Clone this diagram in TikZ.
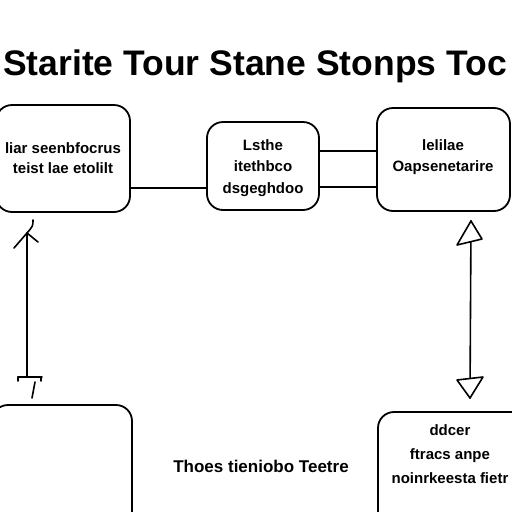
\documentclass[tikz,border=0pt]{standalone}
\usepackage{fontspec}
\setmainfont{Liberation Sans}
\begin{document}
\begin{tikzpicture}[x=1pt,y=-1pt,
  box/.style={draw=black,line width=1.8pt,rounded corners=16pt,inner sep=0pt},
  btext/.style={font=\fontsize{15}{20}\selectfont\bfseries,align=center,inner sep=0pt},
  wire/.style={line width=1.2pt},
  ln/.style={line width=1.6pt,line cap=round,line join=round}]
\useasboundingbox (0,0) rectangle (512,512);
\clip (0,0) rectangle (512,512);
\fill[white] (0,0) rectangle (512,512);
% title
\node[anchor=base west,inner sep=0pt,font=\fontsize{35.5}{40}\selectfont\bfseries] (title) at (3,75) {Starite Tour Stane Stonps Toc};
% boxes
\node[box,minimum width=134pt,minimum height=107pt] (bA) at (63,158.5) {};
\node[box,minimum width=112pt,minimum height=88pt] (bB) at (263,166) {};
\node[box,minimum width=133pt,minimum height=103pt] (bC) at (443.5,159.5) {};
\node[box,minimum width=140pt,minimum height=130pt] (bD) at (62,470) {};
\node[box,minimum width=150pt,minimum height=125pt] (bE) at (453,474.5) {};
% texts
\node[btext,font=\fontsize{15}{20}\selectfont\bfseries] (tA) at (63,158) {liar seenbfocrus\\teist lae etolilt};
\node[btext,font=\fontsize{15}{21.5}\selectfont\bfseries] (tB) at (263,168) {Lsthe\\itethbco\\dsgeghdoo};
\node[btext,font=\fontsize{15}{21}\selectfont\bfseries] (tC) at (443,157.5) {lelilae\\Oapsenetarire};
\node[btext,font=\fontsize{15}{24}\selectfont\bfseries] (tE) at (450,454) {ddcer\\ftracs anpe\\noinrkeesta fietr};
\node[btext,font=\fontsize{17}{20}\selectfont\bfseries] (tM) at (261,466) {Thoes tieniobo Teetre};
% connectors
\draw[wire] ([yshift=-29.5pt]bA.east) -- ([yshift=-29.5pt]bA.east -| bB.west);
\draw[wire] ([yshift=15pt]bB.east) -- ([yshift=15pt]bB.east -| bC.west);
\draw[wire] ([yshift=-21pt]bB.east) -- ([yshift=-21pt]bB.east -| bC.west);
% left arrow
\coordinate (la1) at (27,233);
\coordinate (la2) at (27,377);
\draw[ln] (la1) -- (la2);
\draw[ln] (14,248) -- (la1) -- (38,242);
\draw[ln] (la1) .. controls (33,226) .. (33,220);
\draw[ln] (18,377) -- (42,377);
\draw[ln] (18,377) -- (18,381);
\draw[ln] (41,377) -- (41,381);
\draw[ln] (35,382) -- (32,398);
% right arrow
\coordinate (ra1) at (471,221);
\coordinate (ra2) at (470,398);
\draw[ln] (ra1) -- (ra2);
\draw[ln,fill=white] (ra1) -- (457,245) -- (482,239) -- cycle;
\draw[ln,fill=white] (ra2) -- (457,380) -- (483,377) -- cycle;
\end{tikzpicture}
\end{document}
